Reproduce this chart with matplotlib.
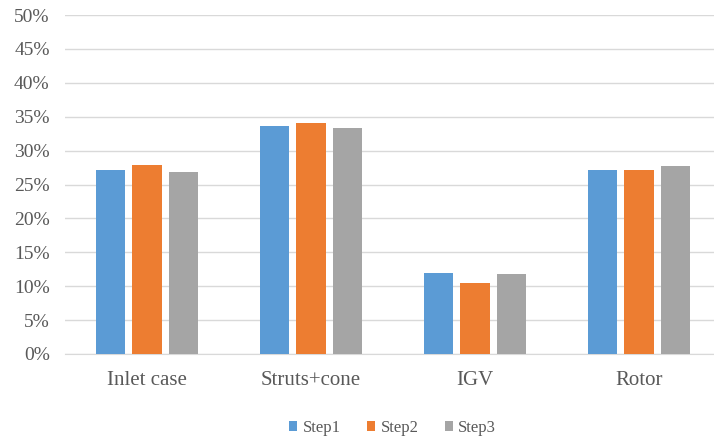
import matplotlib.pyplot as plt
import numpy as np

categories = ['Inlet case', 'Struts+cone', 'IGV', 'Rotor']
step1 = [27.2, 33.6, 11.9, 27.2]
step2 = [27.9, 34.1, 10.4, 27.2]
step3 = [26.9, 33.3, 11.8, 27.8]
series_names = ['Step1', 'Step2', 'Step3']
colors = ['#5B9BD5', '#ED7D31', '#A5A5A5']

plt.rcParams['font.family'] = ['Liberation Serif', 'DejaVu Serif']
text_color = '#595959'

fig = plt.figure(figsize=(7.14, 4.41), dpi=100)
ax = fig.add_axes([65 / 714, 1 - 354 / 441, 649 / 714, 339 / 441])

x = np.arange(len(categories))
width = 0.177
offset = 0.22
for i, (vals, name, c) in enumerate(zip([step1, step2, step3], series_names, colors)):
    ax.bar(x + (i - 1) * offset, vals, width, color=c, label=name, zorder=3)

ax.set_xlim(-0.5, -0.5 + 649 / 164)
ax.set_ylim(0, 50)
ax.set_yticks(np.arange(0, 51, 5))
ax.set_yticklabels([f'{v}%' for v in range(0, 51, 5)], fontsize=14, color=text_color)
ax.set_xticks(x)
ax.set_xticklabels(categories, fontsize=15, color=text_color)
ax.tick_params(axis='both', length=0)
ax.tick_params(axis='y', pad=11)
ax.tick_params(axis='x', pad=12)
ax.grid(axis='y', color='#D9D9D9', linewidth=1, zorder=0)
for s in ['top', 'right', 'left']:
    ax.spines[s].set_visible(False)
ax.spines['bottom'].set_color('#D9D9D9')

leg = fig.legend(loc='center', bbox_to_anchor=(0.55, 1 - 428 / 441), ncol=3, frameon=False,
                 fontsize=12, handlelength=0.5, handleheight=0.5, handletextpad=0.3,
                 columnspacing=1.6)
for t in leg.get_texts():
    t.set_color(text_color)

fig.savefig('out.png', dpi=100)
